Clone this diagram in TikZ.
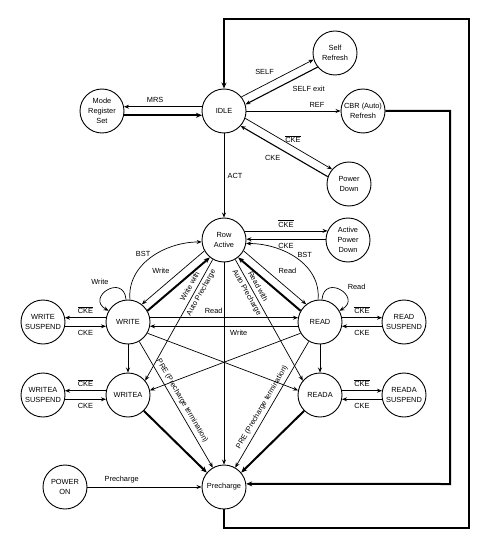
\documentclass[tikz,border=0pt]{standalone}
\usepackage{fontspec}
\newfontfamily\diagfont{Liberation Sans}
\usetikzlibrary{automata, positioning, arrows.meta}
\newcommand{\ckebar}{$\overline{\mbox{CKE}}$}

\begin{document}
\begin{tikzpicture}[
    x=1pt, y=1pt, ->, >={Stealth[length=5pt, width=4pt]},
    on grid, node distance=100pt,
    every node/.style={font=\diagfont\fontsize{7.4}{10}\selectfont, align=center},
    every state/.style={draw, line width=0.9pt, minimum size=44pt, inner sep=1pt},
    cmd/.style={line width=0.7pt},
    cke/.style={line width=1.1pt},
    thickret/.style={line width=2pt, -{Stealth[length=6pt, width=5pt]}}
]
    \useasboundingbox (0,0) rectangle (488,-545);

    % States
    \node[state] at (224,-111) (idle) {IDLE};
    \node[state, left=122pt of idle] (mrs) {Mode\\Register\\Set};
    \node[state, above right=58pt and 111pt of idle] (selfref) {Self\\Refresh};
    \node[state, right=139pt of idle] (cbr) {CBR (Auto)\\Refresh};
    \node[state, below right=73pt and 125pt of idle] (pwrdn) {Power\\Down};
    \node[state, below=129pt of idle] (row) {Row\\Active};
    \node[state, right=124pt of row] (apd) {Active\\Power\\Down};
    \node[state, below left=82pt and 96pt of row] (write) {WRITE};
    \node[state, below right=82pt and 96pt of row] (read) {READ};
    \node[state, left=85pt of write] (wsusp) {WRITE\\SUSPEND};
    \node[state, right=84pt of read] (rsusp) {READ\\SUSPEND};
    \node[state, below=73pt of write] (writea) {WRITEA};
    \node[state, below=73pt of read] (reada) {READA};
    \node[state, left=85pt of writea] (wasusp) {WRITEA\\SUSPEND};
    \node[state, right=84pt of reada] (rasusp) {READA\\SUSPEND};
    \node[state, below=247pt of row] (pre) {Precharge};
    \node[state, left=159pt of pre] (pwron) {POWER\\ON};

    % Corners of the two refresh loops
    \coordinate (outerSE) at (469,-528);
    \coordinate (outerNE) at (469,-19);
    \coordinate (innerSE) at (450,-484);

    % IDLE
    \draw[cmd] (idle.169) -- node[above, pos=0.6] {MRS} (mrs.11);
    \draw[thickret] (mrs.-11) -- (idle.191);
    \draw[cmd] (idle.39) -- node[above left] {SELF} (selfref.197);
    \draw[cke] (selfref.219) -- node[below right, pos=0.4] {SELF exit} (idle.17);
    \draw[cmd] (idle.east) -- node[above, pos=0.75] {REF} (cbr.west);
    \draw[cmd] (idle.-19) -- node[above, pos=0.55] {\ckebar} (pwrdn.139);
    \draw[cke] (pwrdn.161) -- node[below left] {CKE} (idle.-42);
    \draw[cmd] (idle) -- node[right] {ACT} (row);

    % Row Active
    \draw[cmd] (row.24) -- node[above] {\ckebar} (apd.156);
    \draw[cke] (apd.178) -- node[below] {CKE} (row.2);
    \draw[cmd] (row.209) -- node[above left] {Write} (write.52);
    \draw[thickret] (write.30) -- (row.231);
    \draw[cmd] (row.-29) -- node[above right] {Read} (read.128);
    \draw[thickret] (read.150) -- (row.-51);
    \draw[cmd] (write.85) to[out=95, in=180] node[above left, pos=0.5, inner sep=0.5pt] {BST} (row.185);
    \draw[cmd] (read.95) to[out=85, in=0] node[above right, pos=0.5, inner sep=0.5pt] {BST} (row.-9);
    \draw[cmd] (row.240) -- node[sloped, pos=0.25] {Write with\\[2.5pt]Auto Precharge} (writea.40);
    \draw[cmd] (row.300) -- node[sloped, pos=0.25] {Read with\\[2.5pt]Auto Precharge} (reada.140);
    \draw[cmd] (row) -- (pre);

    % WRITE and READ
    \draw[cmd] (write) edge[loop, out=95, in=150, looseness=1.2, min distance=27pt] node[above left, pos=0.4] {Write} (write);
    \draw[cmd] (read) edge[loop, out=85, in=30, looseness=1.2, min distance=27pt] node[above right, pos=0.6] {Read} (read);
    \draw[cmd] (write.169) -- node[above] {\ckebar} (wsusp.11);
    \draw[cke] (wsusp.-11) -- node[below] {CKE} (write.191);
    \draw[cmd] (read.11) -- node[above] {\ckebar} (rsusp.169);
    \draw[cke] (rsusp.191) -- node[below] {CKE} (read.-11);
    \draw[cmd] (write.11) -- node[above, pos=0.43] {Read} (read.169);
    \draw[cmd] (read.191) -- node[below, pos=0.4] {Write} (write.-11);
    \draw[cmd] (write) -- (writea);
    \draw[cmd] (read) -- (reada);
    \draw[cmd] (write.-30) -- (reada.168);
    \draw[cmd] (read.210) -- (writea.12);
    \draw[cmd] (write.-60) -- node[sloped, above, pos=0.5] {PRE (Precharge termination)} (pre.120);
    \draw[cmd] (read.240) -- node[sloped, above, pos=0.55] {PRE (Precharge termination)} (pre.60);

    % WRITEA and READA
    \draw[cmd] (writea.169) -- node[above] {\ckebar} (wasusp.11);
    \draw[cke] (wasusp.-11) -- node[below] {CKE} (writea.191);
    \draw[cmd] (reada.11) -- node[above] {\ckebar} (rasusp.169);
    \draw[cke] (rasusp.191) -- node[below] {CKE} (reada.-11);
    \draw[thickret] (writea.-45) -- (pre.140);
    \draw[thickret] (reada.225) -- (pre.40);

    % Precharge
    \draw[cmd] (pwron) -- node[above, pos=0.3] {Precharge} (pre);
    \draw[thickret] (pre.south) |- (outerSE) -- (outerNE) -| (idle.north);
    \draw[thickret] (cbr.east) -| (innerSE) -- (pre.8);
\end{tikzpicture}
\end{document}
